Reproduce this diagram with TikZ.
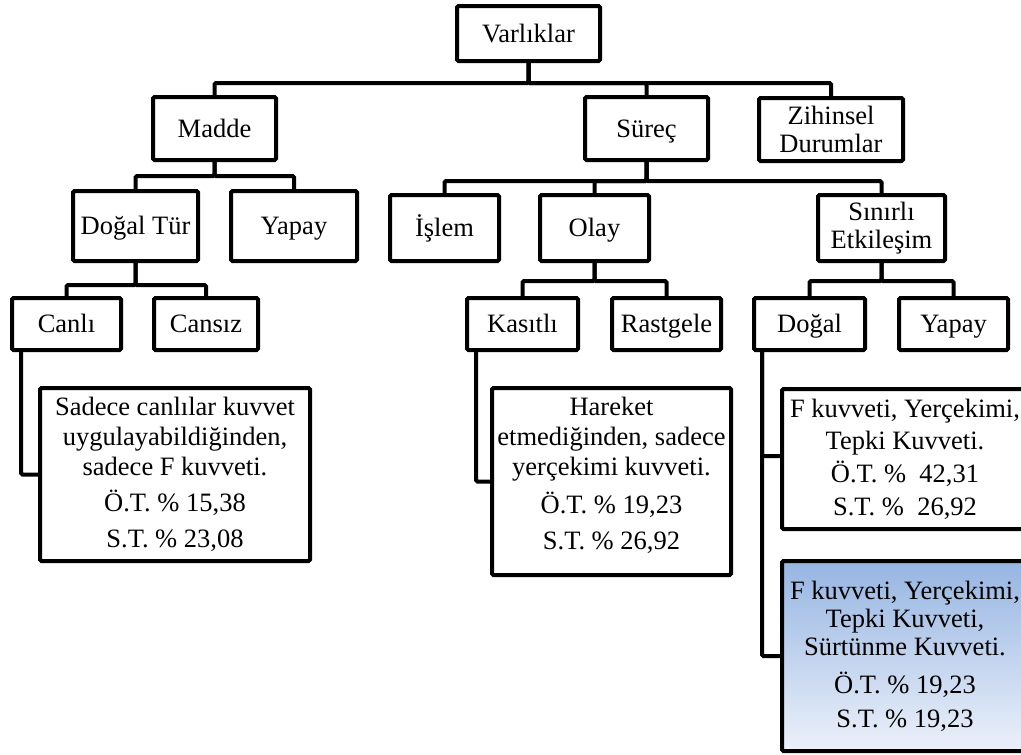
\documentclass[tikz,border=0pt]{standalone}
\usepackage{fontspec}
\setmainfont{Liberation Serif}
\definecolor{shadetop}{RGB}{150,181,226}
\definecolor{shadebottom}{RGB}{236,241,250}

\begin{document}
\begin{tikzpicture}[x=1pt, y=-1pt,
    box/.style={draw, line width=4pt, rounded corners=1.5pt, inner sep=0pt, align=center,
                font=\fontsize{26.5}{28}\selectfont},
    word/.style={box, text height=18pt, text depth=1pt},
    leaf/.style={box, fill=white, font=\fontsize{26.5}{30}\selectfont},
    shaded/.style={leaf, top color=shadetop, bottom color=shadebottom},
    link/.style={line width=4pt, rounded corners=1.5pt}]
  \useasboundingbox (0,0) rectangle (1021,755);
  \clip (0,0) rectangle (1021,755);

  % upper levels of the tree
  \node[word, minimum width=143, minimum height=55] (var)    at (528.5,33.5)  {Varlıklar};
  \node[word, minimum width=123, minimum height=63] (madde)  at (214.5,128.5) {Madde};
  \node[word, minimum width=123, minimum height=63] (surec)  at (646.5,128.5) {Süreç};
  \node[box,  minimum width=144, minimum height=63] (zihin)  at (831,129.5)   {Zihinsel\\Durumlar};
  \node[word, minimum width=125, minimum height=70] (dtur)   at (135.5,226)   {Doğal Tür};
  \node[word, minimum width=126, minimum height=70] (yapayA) at (294,226)     {Yapay};
  \node[word, minimum width=109, minimum height=66] (islem)  at (444.5,228)   {İşlem};
  \node[word, minimum width=109, minimum height=66] (olay)   at (594.5,228)   {Olay};
  \node[box,  minimum width=127, minimum height=66] (sinir)  at (881.5,228)   {Sınırlı\\Etkileşim};

  % lowest row of categories
  \foreach \n/\x/\w/\t in {canli/66.5/109/Canlı, cansiz/206/104/Cansız, kasit/522.5/111/Kasıtlı,
                           rast/666.5/109/Rastgele, dogal/809.5/111/Doğal, yapayB/953.5/109/Yapay}
    \node[word, minimum width=\w, minimum height=52] (\n) at (\x,324) {\t};

  % answer boxes
  \node[leaf, minimum width=270, minimum height=173] (resA) at (175,474.5)
    {Sadece canlılar kuvvet\\uygulayabildiğinden,\\sadece F kuvveti.\\[6pt]Ö.T. \% 15,38\\[6pt]S.T. \% 23,08};
  \node[leaf, minimum width=239, minimum height=187] (resB) at (611.5,481.5)
    {Hareket\\etmediğinden, sadece\\yerçekimi kuvveti.\\[8pt]Ö.T. \% 19,23\\[6pt]S.T. \% 26,92\rule[-16pt]{0pt}{0pt}};
  \node[leaf, minimum width=246, minimum height=140] (resC) at (905,459)
    {F kuvveti, Yerçekimi,\\[2pt]Tepki Kuvveti.\\[3pt]Ö.T. \%\ \ 42,31\\[3pt]S.T. \%\ \ 26,92};
  \node[shaded, minimum width=246, minimum height=190] (resD) at (905,656)
    {F kuvveti, Yerçekimi,\\[-2pt]Tepki Kuvveti,\\[-2pt]Sürtünme Kuvveti.\\[8pt]Ö.T. \% 19,23\\[4pt]S.T. \% 19,23};

  % branches, parent down to a bar and on to each child
  \foreach \c in {madde, surec, zihin}
    \draw[link] (var.south) -- ++(0,20) -| (\c.north);
  \foreach \c in {dtur, yapayA}
    \draw[link] (madde.south) -- ++(0,14) -| (\c.north);
  \foreach \c in {islem, olay, sinir}
    \draw[link] (surec.south) -- ++(0,19) -| (\c.north);
  \foreach \c in {canli, cansiz}
    \draw[link] (dtur.south) -- ++(0,22) -| (\c.north);
  \foreach \c in {kasit, rast}
    \draw[link] (olay.south) -- ++(0,18) -| (\c.north);
  \foreach \c in {dogal, yapayB}
    \draw[link] (sinir.south) -- ++(0,18) -| (\c.north);

  % answers hang from the left side of a category
  \draw[link] ([xshift=11pt]canli.south west) |- (resA.west);
  \draw[link] ([xshift=11pt]kasit.south west) |- (resB.west);
  \draw[link] ([xshift=10pt]dogal.south west) |- ([yshift=3pt]resC.west);
  \draw[link] ([xshift=10pt]dogal.south west) |- (resD.west);
\end{tikzpicture}
\end{document}
